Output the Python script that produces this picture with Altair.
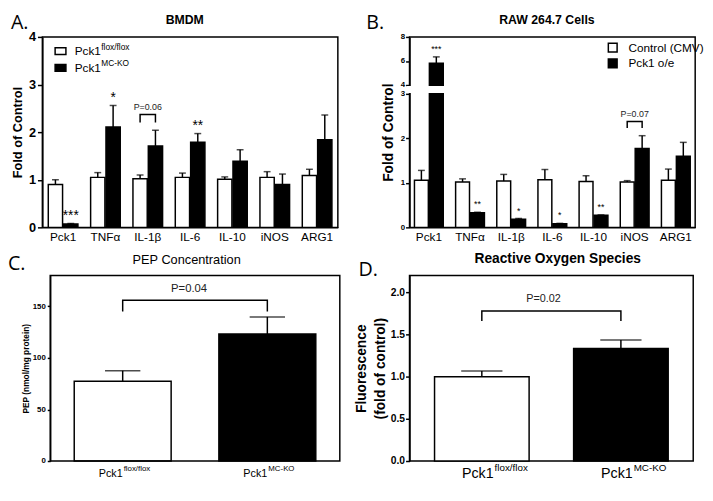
import altair as alt
import pandas as pd

# ---------------- data ----------------
genes = ["Pck1", "TNFα", "IL-1β", "IL-6", "IL-10", "iNOS", "ARG1"]

# Panel A: BMDM
a_groups = ["Pck1 flox/flox", "Pck1 MC-KO"]
a_ctrl = [0.90, 1.05, 1.02, 1.05, 1.01, 1.05, 1.09]
a_ctrl_err = [0.10, 0.10, 0.08, 0.09, 0.05, 0.12, 0.13]
a_ko = [0.07, 2.11, 1.71, 1.79, 1.39, 0.90, 1.84]
a_ko_err = [0.01, 0.45, 0.33, 0.18, 0.24, 0.22, 0.52]
a_stars = ["***", "*", "", "**", "", "", ""]
a_bracket_gene = "IL-1β"
a_bracket = [2.20, 2.37]
a_ptext = "P=0.06"

# Panel B: RAW 264.7 cells
b_groups = ["Control (CMV)", "Pck1 o/e"]
b_ctrl = [1.06, 1.02, 1.04, 1.07, 1.03, 1.02, 1.06]
b_ctrl_err = [0.22, 0.07, 0.15, 0.23, 0.13, 0.03, 0.25]
b_oe = [5.81, 0.33, 0.18, 0.08, 0.27, 1.77, 1.60]
b_oe_err = [0.53, 0.01, 0.02, 0.01, 0.01, 0.29, 0.31]
b_stars = ["***", "**", "*", "*", "**", "", ""]
b_bracket_gene = "iNOS"
b_bracket = [2.23, 2.38]
b_ptext = "P=0.07"

# Panels C and D
genotypes = ["flox", "ko"]
geno_base = ["Pck1", "Pck1"]
geno_sup = ["flox/flox", "MC-KO"]
c_vals = [77.4, 123.2]
c_errs = [10.2, 16.6]
c_bracket = [145, 156]
c_ptext = "P=0.04"
d_vals = [1.00, 1.335]
d_errs = [0.066, 0.10]
d_bracket = [1.66, 1.78]
d_ptext = "P=0.02"

# ---------------- style ----------------
F = "Liberation Sans"
LF = "Open Sans"
K = "black"
LW = 1.5
one = pd.DataFrame({"k": [0]})


def txt(text, x, y, size, weight="normal", font=F, align="center", baseline="middle"):
    return alt.Chart(pd.DataFrame({"t": [text]})).mark_text(
        align=align, baseline=baseline, fontSize=size, fontWeight=weight, font=font, color=K
    ).encode(text="t:N", x=alt.value(x), y=alt.value(y))


def box(x1, x2, y1, y2, fill):
    return alt.Chart(one).mark_rect(fill=fill, stroke=K, strokeWidth=LW).encode(
        x=alt.value(x1), x2=alt.value(x2), y=alt.value(y1), y2=alt.value(y2))


def grouped_df(ctrl, ctrl_err, trt, trt_err, stars, names):
    n = len(genes)
    df = pd.DataFrame({
        "gene": genes * 2,
        "g": ["c"] * n + ["t"] * n,
        "grp": [names[0]] * n + [names[1]] * n,
        "val": ctrl + trt,
        "err": ctrl_err + trt_err,
        "fill": ["white"] * n + ["black"] * n,
        "star": [""] * n + stars,
    })
    df["top"] = df["val"] + df["err"]
    return df


def grouped_layers(df, yscale, yaxis, star_size, star_dy, br_gene, br, ptext, p_size,
                   pad_outer, fill_enc):
    xe = alt.X("gene:N", sort=genes,
               scale=alt.Scale(paddingInner=0.3, paddingOuter=pad_outer),
               axis=alt.Axis(title=None, ticks=False, labelAngle=0, labelFontSize=12,
                             labelPadding=4, labelFont=F))
    xo = alt.XOffset("g:N", sort=["c", "t"], scale=alt.Scale(paddingInner=0.07))

    def ye(f):
        return alt.Y(f, type="quantitative", scale=yscale, axis=yaxis)

    base = alt.Chart(df)
    bars = base.mark_bar(stroke=K, strokeWidth=LW).encode(
        x=xe, xOffset=xo, y=ye("val"), fill=fill_enc)
    err = base.mark_rule(color=K, strokeWidth=LW).encode(
        x=xe, xOffset=xo, y=ye("val"), y2="top:Q")
    cap = base.mark_tick(color=K, thickness=LW, size=7).encode(
        x=xe, xOffset=xo, y=ye("top"))
    stars = base.mark_text(baseline="alphabetic", dy=star_dy, fontSize=star_size,
                           font=F, color=K).encode(
        x=xe, xOffset=xo, y=ye("top"), text="star:N")
    bdf = pd.DataFrame({"gene": [br_gene] * 4, "g": ["c", "c", "t", "t"],
                        "y": [br[0], br[1], br[1], br[0]], "o": [0, 1, 2, 3]})
    bracket = alt.Chart(bdf).mark_line(color=K, strokeWidth=LW).encode(
        x=xe, xOffset=xo, y=ye("y"), order="o:Q")
    pdf = pd.DataFrame({"gene": [br_gene], "y": [br[1]], "t": [ptext]})
    ptxt = alt.Chart(pdf).mark_text(baseline="bottom", dy=-3, fontSize=p_size, font=F,
                                    color="#222").encode(x=xe, y=ye("y"), text="t:N")
    return [bars, err, cap, stars, bracket, ptxt]


# ---------------- Panel A ----------------
WA, HA = 301, 194
dfA = grouped_df(a_ctrl, a_ctrl_err, a_ko, a_ko_err, a_stars, a_groups)
scA = alt.Scale(domain=[0, 4])
axA = alt.Axis(title="Fold of Control", values=[0, 1, 2, 3, 4], titleFontSize=13,
               titleFontWeight="bold", labelFontSize=13, labelFontWeight="bold",
               tickSize=5, labelPadding=2, titlePadding=4)
layersA = grouped_layers(dfA, scA, axA, 14, -4, a_bracket_gene, a_bracket, a_ptext, 9,
                         0.14, alt.Fill("fill:N", scale=None))
legendA = [
    box(13, 24, 11, 18, "white"),
    box(13, 24, 28, 35, "black"),
    txt("Pck1", 33, 14.5, 12, align="left"),
    txt("flox/flox", 60, 10, 8.5, align="left"),
    txt("Pck1", 33, 31.5, 12, align="left"),
    txt("MC-KO", 60, 27, 8.5, align="left"),
]
panelA = alt.layer(
    *layersA, *legendA,
    txt("A.", -32, -24, 20, font=LF, align="left", baseline="top"),
    txt("BMDM", 145, -17.5, 12.5, weight="bold"),
).properties(width=WA, height=HA)

# ---------------- Panel B ----------------
WB, HB = 291, 194
dfB = grouped_df(b_ctrl, b_ctrl_err, b_oe, b_oe_err, b_stars, b_groups)
scB = alt.Scale(domain=[0, 3, 4, 8], range=[HB, 58, 49, 0])
axB = alt.Axis(title="Fold of Control", values=[0, 1, 2, 3, 4, 6, 8], titleFontSize=14,
               titleFontWeight="bold", labelFontSize=8, labelFontWeight="bold",
               tickSize=4, labelPadding=1, titlePadding=5)
fillB = alt.Fill("grp:N", scale=alt.Scale(domain=b_groups, range=["white", "black"]),
                 legend=alt.Legend(title=None, orient="none", legendX=201, legendY=5,
                                   symbolType="square", symbolSize=80,
                                   symbolStrokeColor=K, symbolStrokeWidth=LW,
                                   labelFont=F, labelFontSize=12, labelOffset=10,
                                   rowPadding=0, padding=0))
layersB = grouped_layers(dfB, scB, axB, 9, -5, b_bracket_gene, b_bracket, b_ptext, 9,
                         0.12, fillB)
gapB = alt.Chart(one).mark_rect(fill="white").encode(
    x=alt.value(-3), x2=alt.value(40),
    y=alt.YDatum(3.1, type="quantitative", scale=scB, axis=axB),
    y2=alt.Y2Datum(3.9))
panelB = alt.layer(
    *layersB, gapB,
    txt("B.", -44, -24, 20, font=LF, align="left", baseline="top"),
    txt("RAW 264.7 Cells", 140, -17.5, 12.5, weight="bold"),
).properties(width=WB, height=HB)


# ---------------- Panels C / D ----------------
def two_bar_layers(vals, errs, xe, ye, cap_size, br, ptext, p_size, p_dy, mid,
                   lab_size, sup_size, lab_dx, lab_y, sup_dy):
    df = pd.DataFrame({"geno": genotypes, "val": vals, "err": errs,
                       "fill": ["white", "black"], "base": geno_base, "sup": geno_sup})
    df["top"] = df["val"] + df["err"]
    base = alt.Chart(df)
    bars = base.mark_bar(stroke=K, strokeWidth=LW).encode(
        x=xe, y=ye("val"), fill=alt.Fill("fill:N", scale=None))
    err = base.mark_rule(color=K, strokeWidth=LW).encode(x=xe, y=ye("val"), y2="top:Q")
    cap = base.mark_tick(color=K, thickness=LW, size=cap_size).encode(x=xe, y=ye("top"))
    bdf = pd.DataFrame({"geno": ["flox", "flox", "ko", "ko"],
                        "y": [br[0], br[1], br[1], br[0]], "o": [0, 1, 2, 3]})
    bracket = alt.Chart(bdf).mark_line(color=K, strokeWidth=LW).encode(
        x=xe, y=ye("y"), order="o:Q")
    pdf = pd.DataFrame({"y": [br[1]], "t": [ptext]})
    ptxt = alt.Chart(pdf).mark_text(baseline="bottom", dy=p_dy, fontSize=p_size, font=F,
                                    color="#222").encode(x=alt.value(mid), y=ye("y"),
                                                         text="t:N")
    lab = base.mark_text(align="right", baseline="middle", dx=lab_dx, fontSize=lab_size,
                         font=F, color=K).encode(x=xe, y=alt.value(lab_y), text="base:N")
    sup = base.mark_text(align="left", baseline="middle", dx=lab_dx + 1, dy=sup_dy,
                         fontSize=sup_size, font=F, color=K).encode(
        x=xe, y=alt.value(lab_y), text="sup:N")
    return [bars, err, cap, bracket, ptxt, lab, sup]


WC, HC = 303, 189
xC = alt.X("geno:N", sort=genotypes,
           scale=alt.Scale(range=[8, WC], paddingInner=0.33, paddingOuter=0.166), axis=None)
scC = alt.Scale(domain=[0, 180])
axC = alt.Axis(title="PEP (nmol/mg protein)", values=[0, 50, 100, 150], offset=-8,
               titleFontSize=8.5, titleFontWeight="bold", labelFontSize=8,
               labelFontWeight="bold", tickSize=3, labelPadding=2, titlePadding=2)


def yC(f):
    return alt.Y(f, type="quantitative", scale=scC, axis=axC)


frameC = alt.Chart(one).mark_rect(fillOpacity=0, stroke=K, strokeWidth=LW).encode(
    x=alt.value(8), x2=alt.value(WC), y=alt.value(0), y2=alt.value(HC))
panelC = alt.layer(
    *two_bar_layers(c_vals, c_errs, xC, yC, 36, c_bracket, c_ptext, 11.5, -6,
                    (8 + WC) / 2 - 6, 11, 8, 0, HC + 13, -5),
    frameC,
    txt("C.", -35, -22, 20, font=LF, align="left", baseline="top"),
    txt("PEP Concentration", 147, -16, 13),
).properties(width=WC, height=HC, view=alt.ViewBackground(stroke=None))

WD, HD = 289, 189
xD = alt.X("geno:N", sort=genotypes,
           scale=alt.Scale(paddingInner=0.32, paddingOuter=0.18), axis=None)
scD = alt.Scale(domain=[0, 2.2])
axD = alt.Axis(title=["Fluorescence", "(fold of control)"], values=[0, 0.5, 1, 1.5, 2],
               format=".1f", titleFontSize=14, titleFontWeight="bold", titleLineHeight=19,
               labelFontSize=10.5, labelFontWeight="bold", tickSize=4, labelPadding=1,
               titlePadding=3)


def yD(f):
    return alt.Y(f, type="quantitative", scale=scD, axis=axD)


panelD = alt.layer(
    *two_bar_layers(d_vals, d_errs, xD, yD, 42, d_bracket, d_ptext, 11, -7,
                    WD / 2 - 8, 14.5, 10, 12, HD + 13, -6),
    txt("D.", -52, -15, 20, font=LF, align="left", baseline="top"),
    txt("Reactive Oxygen Species", 151, -17, 14, weight="bold"),
).properties(width=WD, height=HD)

row1 = alt.hconcat(panelA, panelB, spacing=27).resolve_scale(
    fill="independent", xOffset="independent").resolve_legend(fill="independent")
row2 = alt.hconcat(panelC, panelD, spacing=13).resolve_scale(fill="independent")
chart = alt.vconcat(row1, row2, spacing=8).resolve_scale(
    fill="independent", xOffset="independent").resolve_legend(fill="independent").properties(
    padding=0
).configure_view(stroke=K, strokeWidth=LW).configure_axis(
    domainColor=K, domainWidth=LW, tickColor=K, tickWidth=LW, labelColor=K,
    titleColor=K, grid=False, labelFont=F, titleFont=F
)

chart.save("out.html", embed_options={"renderer": "svg", "actions": False})
